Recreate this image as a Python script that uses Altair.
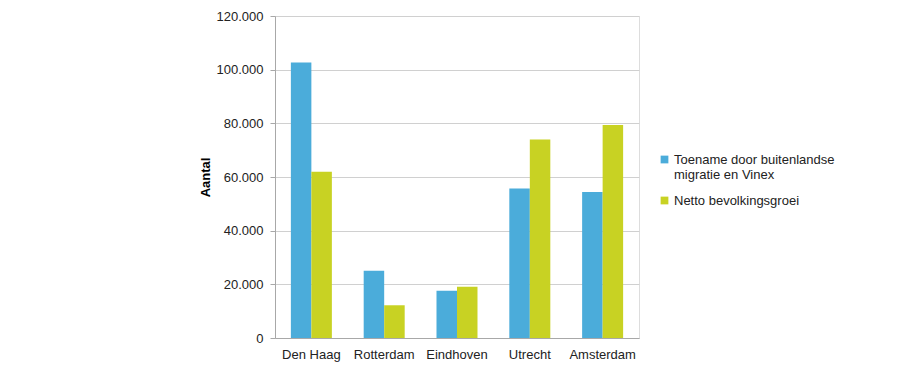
import altair as alt
import pandas as pd

cities = ["Den Haag", "Rotterdam", "Eindhoven", "Utrecht", "Amsterdam"]
series = ["Toename door buitenlandse migratie en Vinex", "Netto bevolkingsgroei"]
toename = [102700, 25100, 17600, 55700, 54400]
netto = [62000, 12200, 19100, 74000, 79400]
colors = ["#4BACDA", "#C8D223"]

rows = []
for i, c in enumerate(cities):
    rows.append({"stad": c, "reeks": series[0], "aantal": toename[i]})
    rows.append({"stad": c, "reeks": series[1], "aantal": netto[i]})
df = pd.DataFrame(rows)

font = "Liberation Sans"

chart = alt.Chart(df).mark_bar().encode(
    x=alt.X("stad:N", sort=cities, title=None,
            scale=alt.Scale(paddingInner=0.437, paddingOuter=0.218),
            axis=alt.Axis(labelAngle=0, ticks=False, domain=True, domainColor="#a8a8a8",
                          labelFont=font, labelFontSize=13, labelColor="#222222",
                          labelPadding=10, grid=False)),
    xOffset=alt.XOffset("reeks:N", sort=series),
    y=alt.Y("aantal:Q", title="Aantal",
            scale=alt.Scale(domain=[0, 120000], nice=False),
            axis=alt.Axis(values=[0, 20000, 40000, 60000, 80000, 100000, 120000],
                          labelExpr="replace(format(datum.value, ','), ',', '.')",
                          labelFont=font, labelFontSize=13, labelColor="#222222",
                          labelPadding=7, tickSize=5, tickColor="#a8a8a8",
                          domainColor="#a8a8a8", gridColor="#d0d0d0",
                          titleFont=font, titleFontSize=13, titleFontWeight="bold",
                          titleColor="#000000", titleX=-70, titleY=161,
                          titleAngle=270, titleAlign="center", titleBaseline="middle")),
    color=alt.Color("reeks:N", sort=series,
                    scale=alt.Scale(domain=series, range=colors),
                    legend=alt.Legend(title=None, orient="none", legendX=383, legendY=137,
                                      symbolType="square", symbolSize=60,
                                      symbolStrokeWidth=0, labelOffset=3,
                                      labelFont=font, labelFontSize=13,
                                      labelColor="#222222", labelLimit=300,
                                      rowPadding=12,
                                      labelExpr="datum.label == 'Toename door buitenlandse migratie en Vinex' ? ['Toename door buitenlandse', 'migratie en Vinex'] : datum.label")),
).properties(
    width=364, height=322,
    autosize=alt.AutoSizeParams(type="none"),
    padding={"left": 267, "top": 8, "right": 275, "bottom": 30},
).configure_view(
    stroke="#b0b0b0", strokeWidth=1
).configure(background="white")

chart.save("out.html", embed_options={"renderer": "svg", "actions": False})
